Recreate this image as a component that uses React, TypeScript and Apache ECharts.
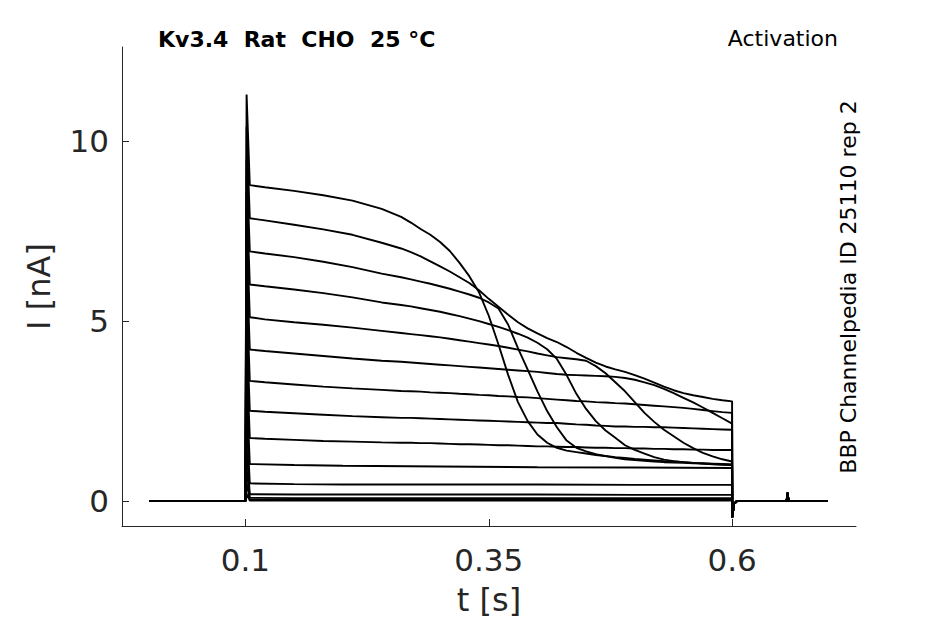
import React, { useEffect, useRef } from "react";
import * as echarts from "echarts";

// ---- axis ranges and ticks ----
const X_MIN = -0.0268;
const X_MAX = 0.7273;
const Y_MIN = -0.694;
const Y_MAX = 12.62;
const X_TICKS = [0.1, 0.35, 0.6];
const Y_TICKS = [0, 5, 10];

// ---- protocol timing (s) ----
const PRE_TIME = [0.0012, 0.1];
const SPIKE_TIME = 0.1012;
const POST_TIME = [0.6002, 0.602, 0.605, 0.656, 0.657, 0.658, 0.6984];
const POST_CURRENT = [-0.45, -0.08, 0.0, 0.0, 0.23, 0.0, 0.0];

// ---- sampled times during the step (s) ----
const TIME = [
  0.1045, 0.12, 0.15, 0.18, 0.21, 0.24, 0.26, 0.27, 0.28, 0.29, 0.3, 0.31, 0.32, 0.33,
  0.34, 0.35, 0.36, 0.37, 0.38, 0.39, 0.4, 0.41, 0.42, 0.43, 0.44, 0.45, 0.46, 0.47,
  0.48, 0.49, 0.5, 0.51, 0.52, 0.53, 0.54, 0.55, 0.56, 0.57, 0.58, 0.59, 0.6,
];
const LOW_TIME = [0.1045, 0.15, 0.2, 0.3, 0.4, 0.5, 0.6];

// ---- current traces (nA) ----
const TRACE_1 = [
  8.78, 8.72, 8.62, 8.5, 8.35, 8.12, 7.9, 7.74, 7.56, 7.4, 7.2, 6.95, 6.62, 6.25, 5.8,
  5.15, 4.35, 3.5, 2.75, 2.22, 1.85, 1.62, 1.48, 1.4, 1.36, 1.32, 1.28, 1.25, 1.22,
  1.2, 1.17, 1.15, 1.13, 1.11, 1.1, 1.08, 1.06, 1.05, 1.04, 1.03, 1.02,
];
const TRACE_2 = [
  7.86, 7.8, 7.68, 7.55, 7.4, 7.18, 7.02, 6.92, 6.8, 6.66, 6.52, 6.38, 6.22, 6.06,
  5.86, 5.62, 5.4, 5.18, 4.97, 4.8, 4.66, 4.53, 4.42, 4.28, 4.12, 3.98, 3.85, 3.74,
  3.66, 3.59, 3.5, 3.4, 3.29, 3.18, 3.08, 3.0, 2.94, 2.89, 2.84, 2.8, 2.77,
];
const TRACE_3 = [
  6.94, 6.88, 6.78, 6.65, 6.5, 6.32, 6.22, 6.16, 6.1, 6.04, 5.97, 5.9, 5.82, 5.74,
  5.65, 5.52, 5.35, 4.9, 4.25, 3.65, 3.05, 2.5, 2.05, 1.68, 1.48, 1.38, 1.3, 1.25,
  1.2, 1.16, 1.14, 1.12, 1.1, 1.08, 1.07, 1.06, 1.05, 1.04, 1.03, 1.02, 1.01,
];
const TRACE_4 = [
  6.02, 5.97, 5.88, 5.78, 5.66, 5.52, 5.45, 5.41, 5.36, 5.31, 5.26, 5.2, 5.14, 5.07,
  5.0, 4.92, 4.84, 4.75, 4.65, 4.54, 4.4, 4.22, 3.95, 3.5, 2.98, 2.56, 2.22, 1.96,
  1.76, 1.55, 1.42, 1.32, 1.22, 1.15, 1.11, 1.08, 1.06, 1.04, 1.02, 1.01, 1.0,
];
const TRACE_5 = [
  5.11, 5.05, 4.97, 4.9, 4.82, 4.73, 4.67, 4.64, 4.61, 4.58, 4.55, 4.51, 4.47, 4.43,
  4.39, 4.35, 4.31, 4.26, 4.21, 4.16, 4.1, 4.05, 4.0, 3.97, 3.94, 3.9, 3.75, 3.55,
  3.3, 3.05, 2.75, 2.45, 2.2, 1.98, 1.8, 1.62, 1.47, 1.34, 1.24, 1.16, 1.1,
];
const TRACE_6 = [
  4.21, 4.17, 4.1, 4.03, 3.96, 3.9, 3.87, 3.85, 3.83, 3.81, 3.79, 3.77, 3.75, 3.73,
  3.71, 3.69, 3.67, 3.65, 3.63, 3.61, 3.59, 3.56, 3.53, 3.51, 3.5, 3.49, 3.48, 3.47,
  3.45, 3.42, 3.37, 3.3, 3.22, 3.12, 3.0, 2.87, 2.74, 2.6, 2.45, 2.3, 2.15,
];
const TRACE_7 = [
  3.34, 3.3, 3.24, 3.18, 3.13, 3.09, 3.06, 3.05, 3.04, 3.02, 3.01, 3.0, 2.98, 2.97,
  2.95, 2.94, 2.92, 2.91, 2.89, 2.88, 2.86, 2.84, 2.82, 2.8, 2.78, 2.77, 2.75, 2.74,
  2.72, 2.71, 2.69, 2.67, 2.65, 2.63, 2.61, 2.59, 2.56, 2.53, 2.5, 2.47, 2.45,
];
const TRACE_8 = [
  2.51, 2.48, 2.44, 2.4, 2.36, 2.33, 2.31, 2.31, 2.3, 2.29, 2.28, 2.27, 2.26, 2.25,
  2.24, 2.23, 2.22, 2.21, 2.2, 2.19, 2.18, 2.17, 2.17, 2.15, 2.13, 2.12, 2.1, 2.09,
  2.07, 2.07, 2.06, 2.06, 2.05, 2.05, 2.04, 2.03, 2.02, 2.01, 2.0, 1.99, 1.98,
];
const TRACE_9 = [
  1.75, 1.73, 1.7, 1.67, 1.65, 1.63, 1.62, 1.62, 1.61, 1.61, 1.6, 1.59, 1.58, 1.58,
  1.57, 1.56, 1.55, 1.55, 1.54, 1.53, 1.52, 1.52, 1.51, 1.5, 1.5, 1.49, 1.48, 1.48,
  1.47, 1.47, 1.46, 1.46, 1.45, 1.45, 1.44, 1.44, 1.43, 1.43, 1.42, 1.42, 1.42,
];
// low traces sampled on LOW_TIME
const TRACE_10 = [1.03, 1.0, 0.98, 0.96, 0.94, 0.93, 0.92];
const TRACE_11 = [0.49, 0.47, 0.46, 0.46, 0.46, 0.45, 0.45];
const TRACE_12 = [0.19, 0.18, 0.18, 0.18, 0.18, 0.17, 0.17];
const TRACE_13 = [0.09, 0.08, 0.08, 0.08, 0.08, 0.08, 0.08];
const TRACE_14 = [0.04, 0.04, 0.04, 0.04, 0.04, 0.04, 0.04];
const TRACE_15 = [0.01, 0.01, 0.01, 0.01, 0.01, 0.01, 0.01];

// capacitive spike peak at step onset (nA), per trace
const SPIKE_PEAK = [11.3, 10.4, 9.5, 8.6, 7.7, 6.8, 5.9, 5.0, 4.1, 3.2, 2.3, 1.5, 0.9, 0.5, 0.2];

const MAIN_TRACES = [TRACE_1, TRACE_2, TRACE_3, TRACE_4, TRACE_5, TRACE_6, TRACE_7, TRACE_8, TRACE_9];
const LOW_TRACES = [TRACE_10, TRACE_11, TRACE_12, TRACE_13, TRACE_14, TRACE_15];

const TITLE = "Kv3.4  Rat  CHO  25 °C";
const CORNER = "Activation";
const SIDE = "BBP Channelpedia ID 25110 rep 2";

function buildTrace(times: number[], values: number[], spike: number): number[][] {
  const pts: number[][] = [];
  PRE_TIME.forEach((t) => pts.push([t, 0]));
  pts.push([SPIKE_TIME, spike]);
  times.forEach((t, i) => pts.push([t, values[i]]));
  POST_TIME.forEach((t, i) => pts.push([t, POST_CURRENT[i]]));
  return pts;
}

const AX_COLOR = "#262626";
const TICK_FONT = "DejaVu Sans";

export default function App() {
  const ref = useRef<HTMLDivElement>(null);
  useEffect(() => {
    const chart = echarts.init(ref.current as HTMLDivElement, null, { renderer: "svg" });
    const allTraces: number[][][] = [];
    MAIN_TRACES.forEach((tr, i) => allTraces.push(buildTrace(TIME, tr, SPIKE_PEAK[i])));
    LOW_TRACES.forEach((tr, i) =>
      allTraces.push(buildTrace(LOW_TIME, tr, SPIKE_PEAK[MAIN_TRACES.length + i]))
    );
    const series = allTraces.map((d, i) => ({
      type: "line",
      name: "trace" + (i + 1),
      data: d,
      showSymbol: false,
      symbol: "none",
      smooth: false,
      lineStyle: { color: "#000", width: 1.9 },
      silent: true,
      z: 3,
    }));
    const axisCommon = {
      type: "value",
      splitLine: { show: false },
      axisLine: { show: true, onZero: false, lineStyle: { color: AX_COLOR, width: 1 } },
      nameLocation: "middle",
      nameTextStyle: { color: AX_COLOR, fontSize: 32, fontFamily: TICK_FONT },
    };
    chart.setOption({
      animation: false,
      backgroundColor: "#ffffff",
      grid: { left: 122, top: 47, width: 734, height: 479, containLabel: false, outerBoundsMode: "none" },
      xAxis: {
        ...axisCommon,
        min: X_MIN,
        max: X_MAX,
        name: "t [s]",
        nameGap: 58,
        axisTick: { show: true, inside: true, length: 7, customValues: X_TICKS, lineStyle: { color: AX_COLOR } },
        axisLabel: {
          customValues: X_TICKS,
          formatter: (v: number) => String(v),
          margin: 18,
          color: AX_COLOR,
          fontSize: 31,
          fontFamily: TICK_FONT,
        },
      },
      yAxis: {
        ...axisCommon,
        min: Y_MIN,
        max: Y_MAX,
        name: "I [nA]",
        nameGap: 67,
        axisTick: { show: true, inside: true, length: 7, customValues: Y_TICKS, lineStyle: { color: AX_COLOR } },
        axisLabel: {
          customValues: Y_TICKS,
          formatter: (v: number) => String(v),
          margin: 13,
          color: AX_COLOR,
          fontSize: 31,
          fontFamily: TICK_FONT,
        },
      },
      series,
      graphic: [
        {
          type: "text",
          x: 158,
          y: 39,
          style: {
            text: TITLE,
            fill: "#000",
            font: 'bold 22px "DejaVu Sans"',
            align: "left",
            verticalAlign: "middle",
          },
        },
        {
          type: "text",
          x: 838,
          y: 38.5,
          style: {
            text: CORNER,
            fill: "#000",
            font: '22px "DejaVu Sans"',
            align: "right",
            verticalAlign: "middle",
          },
        },
        {
          type: "text",
          x: 848.5,
          y: 287,
          rotation: Math.PI / 2,
          style: {
            text: SIDE,
            fill: "#000",
            font: '22px "DejaVu Sans"',
            align: "center",
            verticalAlign: "middle",
          },
        },
      ],
    });
    return () => chart.dispose();
  }, []);
  return (
    <div
      ref={ref}
      style={{ position: "fixed", left: 0, top: 0, width: 945, height: 624, background: "#fff" }}
    />
  );
}
